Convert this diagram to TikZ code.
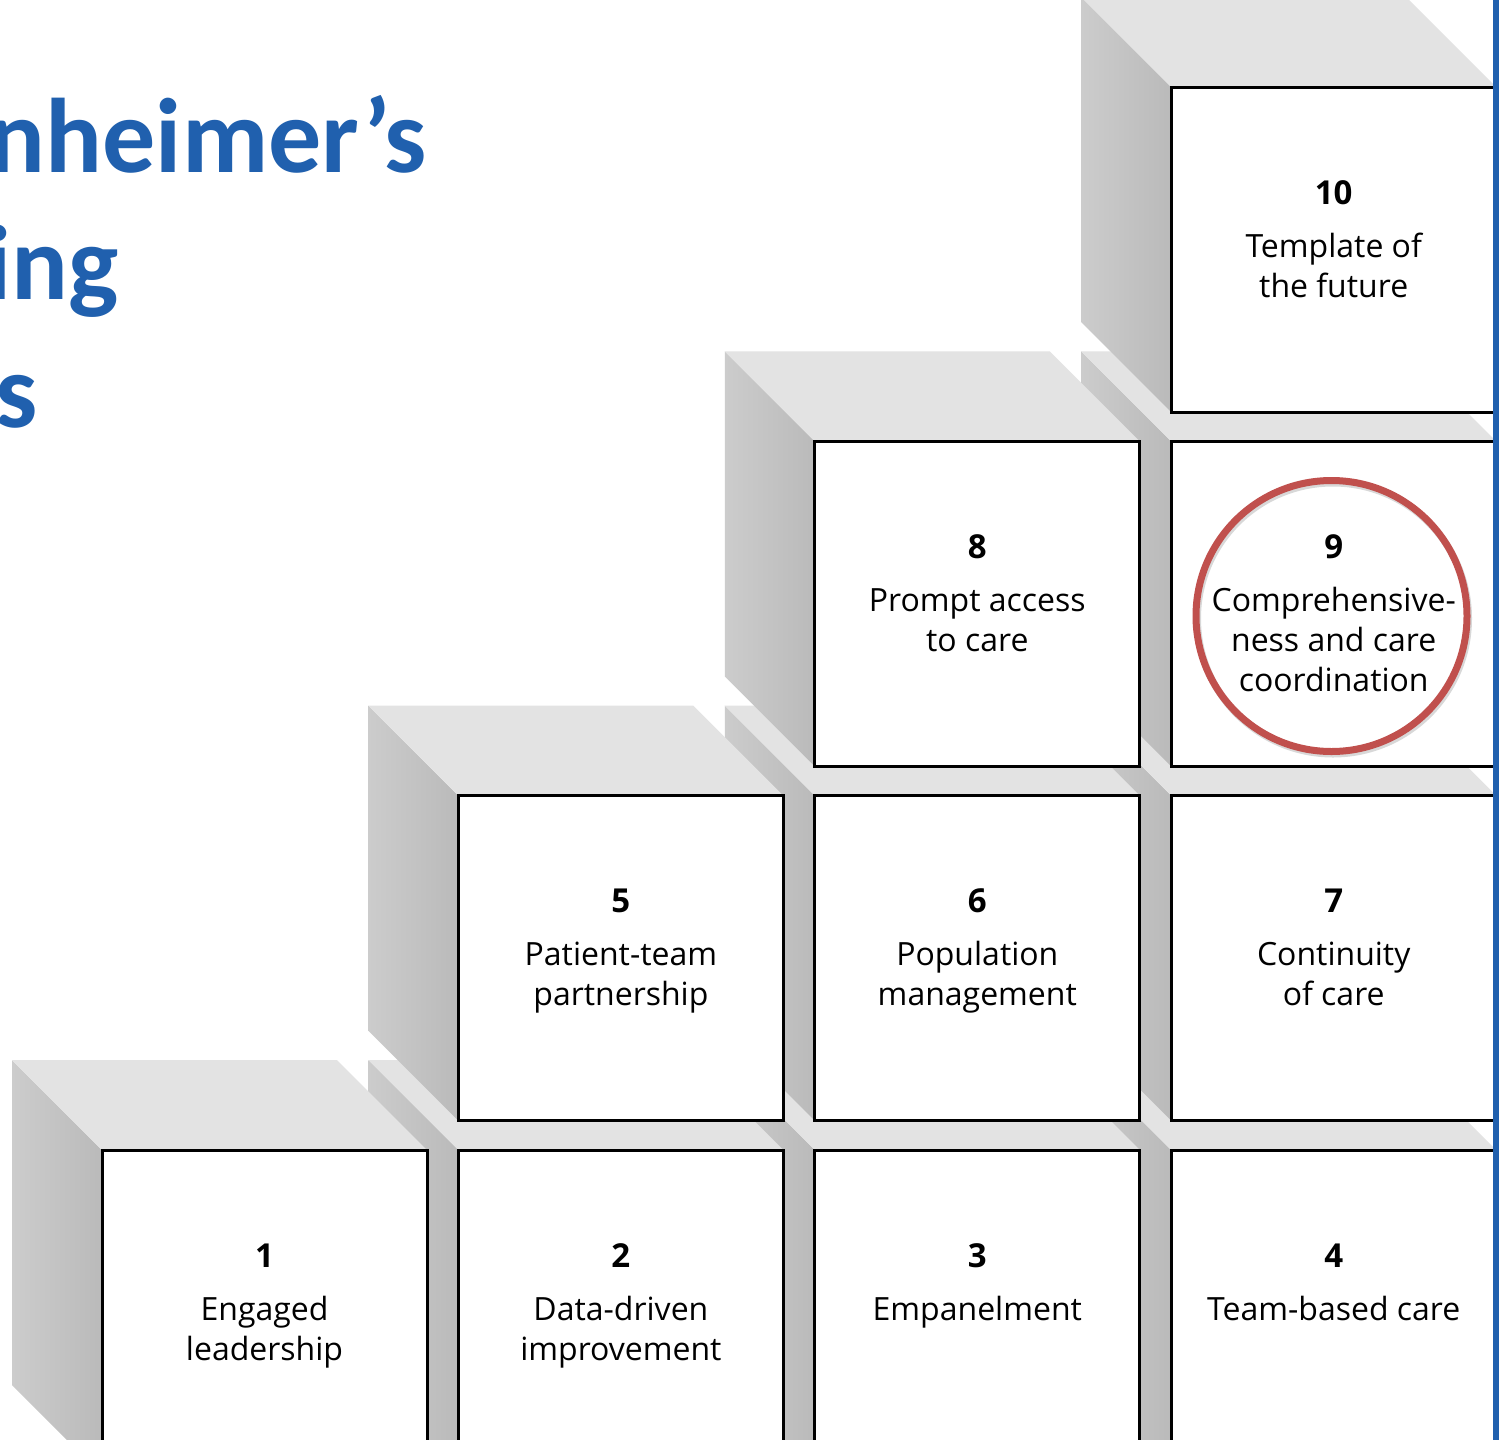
\documentclass[tikz,border=0pt]{standalone}
\usepackage{fontspec}
\setmainfont{Open Sans}
\newfontfamily\titlefont{Carlito}
\definecolor{titleblue}{RGB}{32,96,174}
\definecolor{topgray}{RGB}{227,227,227}
\definecolor{sideback}{RGB}{204,204,204}
\definecolor{sidefront}{RGB}{186,186,186}
\definecolor{ringred}{RGB}{192,80,77}
\tikzset{
  topface/.style={fill=topgray},
  sideface/.style={left color=sideback, right color=sidefront},
  frontface/.style={draw=black, line width=3pt, fill=white, minimum width=325pt, minimum height=325pt, inner sep=0pt, outer sep=0pt},
  numlabel/.style={font=\bfseries\fontsize{33}{40}\selectfont, anchor=base, inner sep=0pt},
  boxtext/.style={font=\fontsize{32}{40}\selectfont, anchor=base, inner sep=0pt},
  titletext/.style={font=\titlefont\bfseries\fontsize{106}{128}\selectfont, text=titleblue, anchor=base east, inner sep=0pt},
}
\newcommand\blockcube[5]{%
  \path[sideface] (#1,#2) -- ++(-90,-90) -- ++(0,325) -- ++(90,90) -- cycle;
  \path[topface] (#1,#2) -- ++(-90,-90) -- ++(325,0) -- ++(90,90) -- cycle;
  \node[frontface] (#3) at (#1+162.5,#2+162.5) {};
  \node[numlabel] (#3num) at (#1+162.5,#2+117) {#4};
  \node[boxtext] (#3txt) at (#1+162.5,#2+170) {\begin{tabular}[t]{@{}c@{}}#5\end{tabular}};
}
\begin{document}
\begin{tikzpicture}[x=1pt,y=-1pt]
\useasboundingbox (0,0) rectangle (1499,1440);
\clip (0,0) rectangle (1499,1440);
\fill[white] (0,0) rectangle (1499,1440);
% title (cropped at left)
\node[titletext] (t1) at (427,172) {nheimer’s};
\node[titletext] (t2) at (119,299) {ing};
\node[titletext] (t3) at (38,427) {s};
% row 1
\blockcube{1171.2}{1150}{b4}{4}{Team-based care}
\blockcube{814.8}{1150}{b3}{3}{Empanelment}
\blockcube{458.4}{1150}{b2}{2}{Data-driven\\improvement}
\blockcube{102}{1150}{b1}{1}{Engaged\\leadership}
% row 2
\blockcube{1171.2}{795.7}{b7}{7}{Continuity\\of care}
\blockcube{814.8}{795.7}{b6}{6}{Population\\management}
\blockcube{458.4}{795.7}{b5}{5}{Patient-team\\partnership}
% row 3
\blockcube{1171.2}{441.4}{b9}{9}{Comprehensive-\\ness and care\\coordination}
\blockcube{814.8}{441.4}{b8}{8}{Prompt access\\to care}
% row 4
\blockcube{1171.2}{87.1}{b10}{10}{Template of\\the future}
% highlight ring with soft shadow
\node[draw=black!25, line width=7pt, circle, minimum size=271pt, inner sep=0pt, opacity=0.6] (ringshadow) at (1333,618.5) {};
\node[draw=ringred, line width=7pt, circle, minimum size=271pt, inner sep=0pt] (ring) at (1331.5,616) {};
% right blue bar
\fill[titleblue] (1493,0) rectangle (1499,1440);
\end{tikzpicture}
\end{document}
